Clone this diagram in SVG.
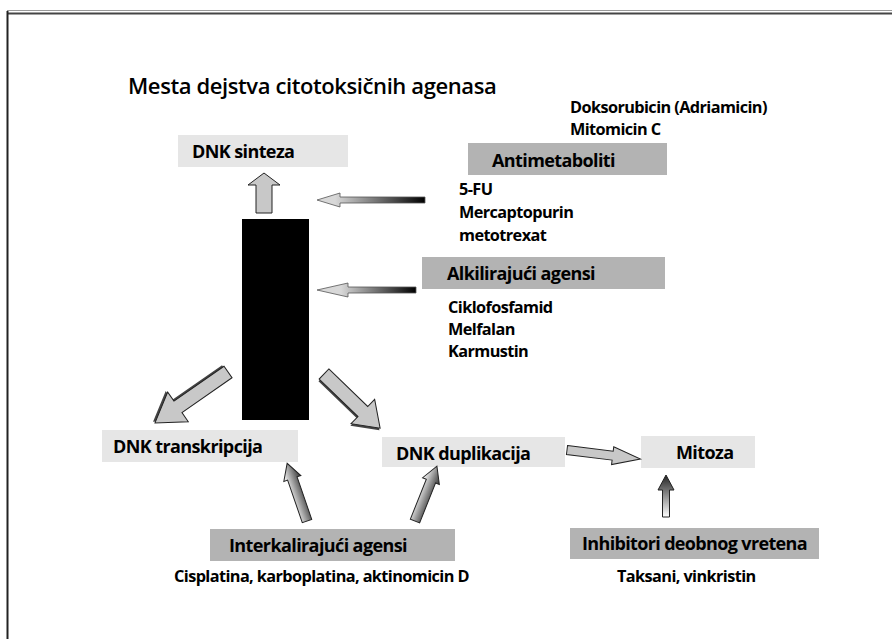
<svg xmlns="http://www.w3.org/2000/svg" width="892" height="639" viewBox="0 0 892 639">
<style>
.t{font-family:"Open Sans","Liberation Sans",sans-serif;font-weight:700;font-size:16.3px;fill:#000;letter-spacing:-0.6px}
.bl{font-family:"Open Sans","Liberation Sans",sans-serif;font-weight:700;font-size:18px;fill:#000;letter-spacing:-0.6px}
.title{font-family:"Open Sans","Liberation Sans",sans-serif;font-weight:600;font-size:22px;fill:#000;letter-spacing:-0.4px}
.lb{fill:#e6e6e6}
.db{fill:#b3b3b3}
.ar{fill:#c8c8c8;stroke:#222;stroke-width:1;stroke-linejoin:miter}
.sh{fill:#444}
</style>
<defs>
<linearGradient id="gl1" gradientUnits="userSpaceOnUse" x1="0" y1="0" x2="90" y2="0">
<stop offset="0" stop-color="#000"/><stop offset="1" stop-color="#d8d8d8"/>
</linearGradient>
<linearGradient id="gl2" gradientUnits="userSpaceOnUse" x1="0" y1="0" x2="75" y2="0">
<stop offset="0" stop-color="#000"/><stop offset="1" stop-color="#d8d8d8"/>
</linearGradient>
<linearGradient id="gw" x1="0" y1="0" x2="0" y2="1">
<stop offset="0" stop-color="#fff"/><stop offset="1" stop-color="#333"/>
</linearGradient>
<linearGradient id="gb" x1="0" y1="0" x2="1" y2="0">
<stop offset="0" stop-color="#fff"/><stop offset="1" stop-color="#222"/>
</linearGradient>
</defs>
<rect width="892" height="639" fill="#fff"/>
<g id="frame">
<line x1="7" y1="10.5" x2="892" y2="10.5" stroke="#999" stroke-width="1"/>
<line x1="7" y1="13.5" x2="892" y2="13.5" stroke="#444" stroke-width="2"/>
<line x1="7.5" y1="11" x2="7.5" y2="639" stroke="#222" stroke-width="2"/>
</g>
<text class="title" x="128" y="94">Mesta dejstva citotoksičnih agenasa</text>
<g id="dnk-sinteza"><rect class="lb" x="178" y="135" width="170" height="32"/><text class="bl" x="192" y="158">DNK sinteza</text></g>
<g id="dna-block"><rect x="242" y="219" width="67" height="201" fill="#000"/></g>
<g id="antimetaboliti"><rect class="db" x="468" y="143" width="199" height="32"/><text class="bl" x="492" y="167">Antimetaboliti</text></g>
<g id="antimetaboliti-top"><text class="t" x="570" y="113">Doksorubicin (Adriamicin)</text><text class="t" x="570" y="135">Mitomicin C</text></g>
<g id="antimetaboliti-list"><text class="t" x="459" y="195">5-FU</text><text class="t" x="459" y="218">Mercaptopurin</text><text class="t" x="459" y="241">metotrexat</text></g>
<g id="alkilirajuci"><rect class="db" x="422" y="257" width="243" height="32"/><text class="bl" x="447" y="280">Alkilirajući agensi</text></g>
<g id="alkilirajuci-list"><text class="t" x="448" y="313">Ciklofosfamid</text><text class="t" x="448" y="335">Melfalan</text><text class="t" x="448" y="357">Karmustin</text></g>
<g id="dnk-transkripcija"><rect class="lb" x="102" y="430" width="196" height="32"/><text class="bl" x="113" y="453">DNK transkripcija</text></g>
<g id="dnk-duplikacija"><rect class="lb" x="382" y="437" width="183" height="30"/><text class="bl" x="396" y="460">DNK duplikacija</text></g>
<g id="mitoza"><rect class="lb" x="641" y="436" width="114" height="32"/><text class="bl" x="676" y="459">Mitoza</text></g>
<g id="interkalirajuci"><rect class="db" x="210" y="529" width="245" height="32"/><text class="bl" x="229" y="552">Interkalirajući agensi</text><text class="t" x="174" y="582">Cisplatina, karboplatina, aktinomicin D</text></g>
<g id="inhibitori"><rect class="db" x="570" y="528" width="249" height="31"/><text class="bl" x="582" y="550" textLength="225" lengthAdjust="spacing">Inhibitori deobnog vretena</text><text class="t" x="617" y="582">Taksani, vinkristin</text></g>
<g id="connectors">
<polygon class="ar" transform="translate(264,213) rotate(-90)" points="0,-8 28,-8 28,-16 40,0 28,16 28,8 0,8"/>
<polygon transform="translate(425,200) rotate(180)" fill="url(#gl1)" stroke="#555" stroke-width="0.8" points="0,-3 85,-3 85,-7 108,0 85,7 85,3 0,3"/>
<polygon transform="translate(416,290) rotate(180)" fill="url(#gl2)" stroke="#555" stroke-width="0.8" points="0,-3 68,-3 68,-7 99,0 68,7 68,3 0,3"/>
<g transform="translate(228,372) rotate(145.1)">
<polygon class="sh" transform="translate(1,2)" points="0,-7 61,-7 61,-18 89,0 61,18 61,7 0,7"/>
<polygon class="ar" points="0,-7 61,-7 61,-18 89,0 61,18 61,7 0,7"/>
</g>
<g transform="translate(324,374) rotate(44)">
<polygon class="sh" transform="translate(1,2)" points="0,-7 54,-7 54,-17 78,0 54,17 54,7 0,7"/>
<polygon class="ar" points="0,-7 54,-7 54,-17 78,0 54,17 54,7 0,7"/>
</g>
<polygon class="ar" transform="translate(567,450) rotate(7)" points="0,-4.5 46,-4.5 46,-9 74,0 46,9 46,4.5 0,4.5"/>
<polygon transform="translate(666,517) rotate(-90)" fill="url(#gb)" stroke="#222" stroke-width="1" points="0,-3.5 27,-3.5 27,-8 42,0 27,8 27,3.5 0,3.5"/>
<polygon transform="translate(307,521) rotate(-109)" fill="url(#gw)" stroke="#222" stroke-width="1" points="0,-5 45,-5 45,-9 61,0 45,9 45,5 0,5"/>
<polygon transform="translate(415,521) rotate(-68.2)" fill="url(#gw)" stroke="#222" stroke-width="1" points="0,-5 43,-5 43,-9 59,0 43,9 43,5 0,5"/>
</g>
</svg>
